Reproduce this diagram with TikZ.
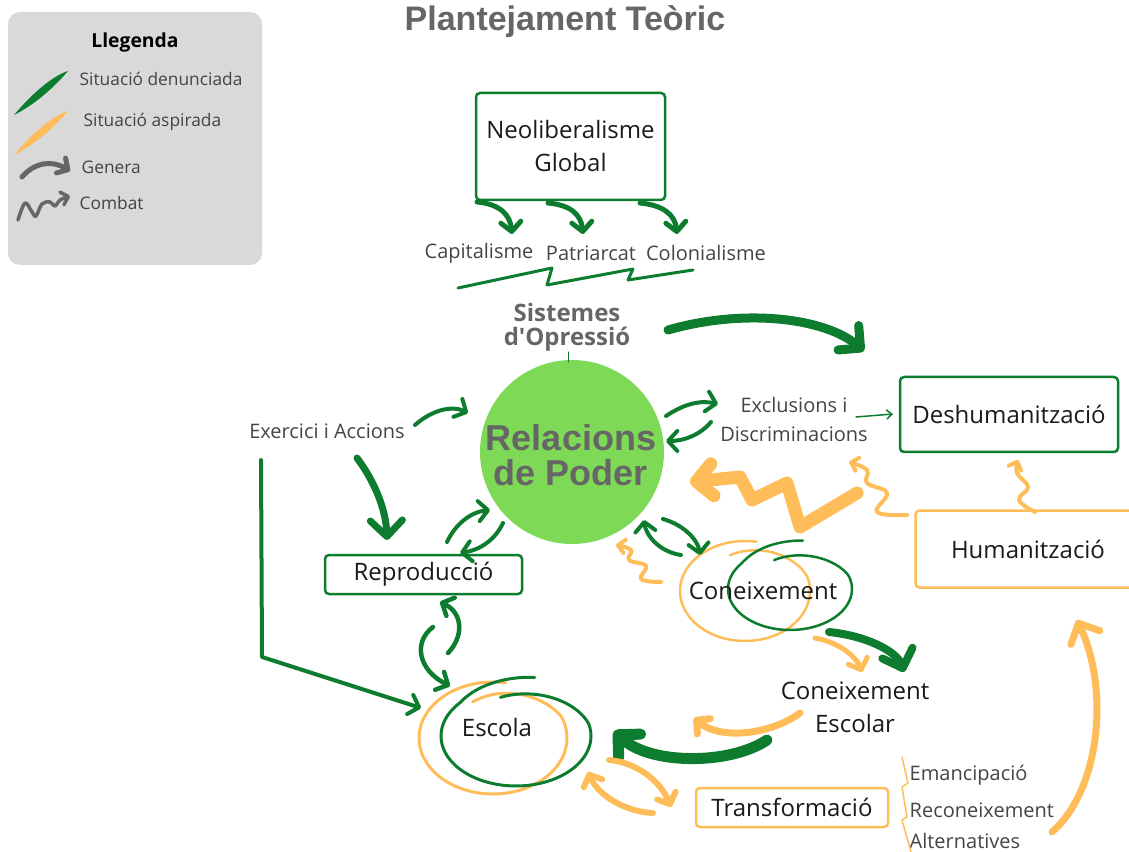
\documentclass[tikz,border=0pt]{standalone}
\usepackage{fontspec}
\setmainfont{Open Sans}
\newfontfamily\heavyfont{Liberation Sans}
\usetikzlibrary{arrows.meta}
\definecolor{dg}{HTML}{0E7C2F}
\definecolor{lg}{HTML}{7ED957}
\definecolor{og}{HTML}{FFBD59}
\definecolor{tg}{HTML}{666666}
\definecolor{lgray}{HTML}{D9D9D9}
\definecolor{txt}{HTML}{1A1A1A}
\definecolor{lab}{HTML}{444444}
\newdimen\PX \PX=0.75pt
\begin{document}
\begin{tikzpicture}[x=0.75pt,y=-0.75pt,
  gbox/.style={draw=dg, line width=2.5\PX, rounded corners=4\PX, align=center, text=txt, font=\fontsize{18}{24.75}\selectfont},
  obox/.style={gbox, draw=og},
  plain/.style={text=txt, align=center, font=\fontsize{18}{24.75}\selectfont},
  labl/.style={text=lab, align=center, font=\fontsize{15}{21.75}\selectfont},
  leglab/.style={text=lab, anchor=west, font=\fontsize{13}{15}\selectfont},
  gl/.style={draw=dg, line cap=round, line join=round},
  ol/.style={draw=og, line cap=round, line join=round},
  bigtip/.style={-{Straight Barb[length=12pt,width=24pt,round]}},
  midtip/.style={-{Straight Barb[length=7pt,width=15pt,round]}},
  smtip/.style={-{Straight Barb[length=5pt,width=10pt,round]}},
  thintip/.style={-{Straight Barb[length=4pt,width=7pt]}}
]
\useasboundingbox (0,0) rectangle (1129,852);
\clip (0,0) rectangle (1129,852);

% ---------- legend ----------
\fill[lgray, rounded corners=9pt] (8,12) rectangle (262,265);
\node[font=\bfseries\fontsize{14.5}{16}\selectfont, text=black] (legt) at (135,42) {Llegenda};
\fill[dg] (14,115) .. controls (35,90) and (55,75) .. (68,71) .. controls (58,83) and (38,103) .. (14,115) -- cycle;
\fill[og] (14,155) .. controls (35,130) and (55,115) .. (68,111) .. controls (58,123) and (38,143) .. (14,155) -- cycle;
\draw[draw=tg, line width=5\PX, line cap=round, -{Straight Barb[length=6pt,width=13pt,round]}] (22,177) .. controls (35,162) and (52,160) .. (70,171);
\draw[draw=tg, line width=3.5\PX, line cap=round, line join=round, -{Straight Barb[length=5pt,width=10pt,round]}] plot[smooth, tension=0.6] coordinates {(18,220) (25,203) (32,212) (36,216) (42,204) (50,202) (55,206) (60,200) (70,196)};
\node[leglab] (l1) at (75,79) {Situació denunciada};
\node[leglab] (l2) at (79,122) {Situació aspirada};
\node[leglab] (l3) at (77,167) {Genera};
\node[leglab] (l4) at (75,203) {Combat};

% ---------- title ----------
\node[font=\heavyfont\bfseries\fontsize{25.5}{30}\selectfont, text=tg] (title) at (565,22) {Plantejament Teòric};

% ---------- hand-drawn loops ----------
\draw[ol, line width=3\PX] plot[smooth, domain=0:393, samples=90, variable=\u]
  ({493 + 74*(1-0.3*max(0,\u-303)/90)*cos(280-\u)}, {738 + 56*(1-0.3*max(0,\u-303)/90)*sin(280-\u)});
\draw[gl, line width=3\PX] plot[smooth, domain=0:387, samples=90, variable=\u]
  ({516 + 75*(1+0.2*max(0,60-\u)/60-0.2*max(0,\u-297)/90)*cos(282-\u)}, {736 + 50*(1+0.2*max(0,60-\u)/60-0.2*max(0,\u-297)/90)*sin(282-\u)});
\draw[ol, line width=2.5\PX] plot[smooth, domain=0:388, samples=90, variable=\u]
  ({745 + 65*(1-0.25*max(0,\u-298)/90)*cos(280-\u)}, {591 + 50*(1-0.25*max(0,\u-298)/90)*sin(280-\u)});
\draw[gl, line width=2.5\PX] plot[smooth, domain=0:390, samples=90, variable=\u]
  ({790 + 62*(1+0.2*max(0,60-\u)/60-0.25*max(0,\u-300)/90)*cos(280-\u)}, {589 + 41*(1+0.2*max(0,60-\u)/60-0.25*max(0,\u-300)/90)*sin(280-\u)});

% ---------- nodes ----------
\node[gbox, minimum width=141.75pt, minimum height=80.25pt] (neo) at (570.5,146.5) {Neoliberalisme\\Global};
\node[labl] (cap) at (479,253) {Capitalisme};
\node[labl] (pat) at (591,253) {Patriarcat};
\node[labl] (col) at (706,253) {Colonialisme};
\node[text=tg, align=center, font=\bfseries\fontsize{18}{18}\selectfont] (sis) at (567,327) {Sistemes\\d\XeTeXglyph\XeTeXcharglyph"0027 Opressió};
\node[circle, fill=lg, minimum size=138pt, inner sep=0pt] (rel) at (572,452) {};
\node[text=tg, align=center, font=\heavyfont\bfseries\fontsize{27}{26.25}\selectfont] (reltxt) at (571,455) {Relacions\\de Poder};
\node[labl] (exc) at (794,419) {Exclusions i\\Discriminacions};
\node[gbox, minimum width=163.5pt, minimum height=56.25pt] (desh) at (1009,414.5) {Deshumanització};
\node[obox, minimum width=168.75pt, minimum height=57.75pt] (hum) at (1028,549) {Humanització};
\node[labl] (exer) at (327,431) {Exercici i Accions};
\node[gbox, minimum width=147.75pt, minimum height=29.25pt] (repro) at (423.5,574.5) {Reproducció};
\node[plain] (conei) at (763,591) {Coneixement};
\node[plain] (cesc) at (855,707) {Coneixement\\Escolar};
\node[plain] (escola) at (497,727) {Escola};
\node[obox, minimum width=144pt, minimum height=29.25pt] (transf) at (792,807.5) {Transformació};
\node[labl, anchor=west] (ema) at (905,775) {Emancipació};
\node[labl, anchor=west] (rec) at (905,810) {Reconeixement};
\node[labl, anchor=west] (alt) at (905,841) {Alternatives};

% ---------- coordinates ----------
\coordinate (n1s) at (477,202); \coordinate (n1e) at (512,234);
\coordinate (n2s) at (548,203); \coordinate (n2e) at (583,234);
\coordinate (n3s) at (640,203); \coordinate (n3e) at (677,234);
\coordinate (sisE) at (668,330); \coordinate (deshN) at (864,351);
\coordinate (relE1) at (666,416); \coordinate (excW1) at (718,404);
\coordinate (excW2) at (711,422); \coordinate (relE2) at (666,441);
\coordinate (excE) at (856,417); \coordinate (deshW) at (893,414);
\coordinate (exerE) at (415,425); \coordinate (relW) at (468,413);
\coordinate (exerS) at (357,458); \coordinate (reproN) at (387,540);
\coordinate (reproA) at (447,542); \coordinate (relSW1) at (490,510);
\coordinate (relSW2) at (503,523); \coordinate (reproB) at (460,553);
\coordinate (escA) at (448,653); \coordinate (reproS1) at (440,602);
\coordinate (reproS2) at (433,627); \coordinate (escN) at (450,686);
\coordinate (exerV) at (261,460); \coordinate (corner) at (262,657); \coordinate (escW) at (421,708);
\coordinate (relSE1) at (663,519); \coordinate (coneiN1) at (700,555);
\coordinate (coneiN2) at (681,555); \coordinate (relSE2) at (644,520);
\coordinate (coneiSE1) at (829,632); \coordinate (cescN1) at (904,672);
\coordinate (coneiSE2) at (815,638); \coordinate (cescN2) at (862,672);
\coordinate (cescW1) at (767,740); \coordinate (escE1) at (614,731);
\coordinate (cescW2) at (800,713); \coordinate (escE2) at (694,718);
\coordinate (escSE1) at (609,760); \coordinate (transfW1) at (671,807);
\coordinate (transfW2) at (653,813); \coordinate (escSE2) at (588,772);
\coordinate (altE) at (1052,832); \coordinate (humS) at (1077,620);

% ---------- connectors ----------
\draw[gl, line width=5\PX, midtip] (n1s) .. controls +(22,2) and +(-2,-20) .. (n1e);
\draw[gl, line width=5\PX, midtip] (n2s) .. controls +(22,2) and +(-2,-20) .. (n2e);
\draw[gl, line width=5\PX, midtip] (n3s) .. controls +(22,2) and +(-2,-20) .. (n3e);
\draw[gl, line width=3\PX] (458,288) -- (552,268) -- (547,285) -- (633,269) -- (628,280) -- (693,270);
\draw[gl, line width=1\PX] (568,352) -- (568,362);

\draw[gl, line width=9\PX, bigtip] (sisE) .. controls (745,308) and (825,318) .. (deshN);
\draw[gl, line width=4\PX, midtip] (relE1) .. controls (684,404) and (700,400) .. (excW1);
\draw[gl, line width=4\PX, midtip] (excW2) .. controls (700,435) and (684,441) .. (relE2);
\draw[gl, line width=1.5\PX, thintip] (excE) -- (deshW);
\draw[gl, line width=4\PX, midtip] (exerE) .. controls (432,410) and (452,405) .. (relW);
\draw[gl, line width=7\PX, bigtip] (exerS) .. controls (375,482) and (386,510) .. (reproN);
\draw[gl, line width=4\PX, midtip] (reproA) .. controls (455,525) and (470,512) .. (relSW1);
\draw[gl, line width=4\PX, midtip] (relSW2) .. controls (495,540) and (480,550) .. (reproB);
\draw[gl, line width=4.5\PX, midtip] (escA) .. controls (465,635) and (462,612) .. (reproS1);
\draw[gl, line width=4.5\PX, midtip] (reproS2) .. controls (413,642) and (418,670) .. (escN);
\draw[gl, line width=4\PX, midtip] (exerV) -- (corner) -- (escW);
\draw[gl, line width=4\PX, midtip] (relSE1) .. controls (684,525) and (698,540) .. (coneiN1);
\draw[gl, line width=4\PX, midtip] (coneiN2) .. controls (660,552) and (646,536) .. (relSE2);
\draw[gl, line width=8\PX, bigtip] (coneiSE1) .. controls (868,636) and (897,652) .. (cescN1);
\draw[ol, line width=5\PX, midtip] (coneiSE2) .. controls (838,642) and (856,656) .. (cescN2);
\draw[gl, line width=11\PX, bigtip] (cescW1) .. controls (730,765) and (650,765) .. (escE1);
\draw[ol, line width=7\PX, midtip] (cescW2) .. controls (770,735) and (720,740) .. (escE2);
\draw[ol, line width=6\PX, midtip] (escSE1) .. controls (635,762) and (660,780) .. (transfW1);
\draw[ol, line width=6\PX, midtip] (transfW2) .. controls (625,812) and (598,795) .. (escSE2);
\draw[ol, line width=1.5\PX] (902,757) -- (908,783) -- (902,787) -- (907,817) -- (902,820) -- (911,852);
\draw[ol, line width=7\PX, bigtip] (altE) .. controls (1100,790) and (1110,690) .. (humS);

% orange "combat" arrows
\draw[ol, line width=13\PX, bigtip] (857,493) -- (800,527) -- (787,483) -- (752,500) -- (740,477) -- (690,482);
\draw[ol, line width=4\PX, smtip] plot[smooth, tension=0.7] coordinates {(907,515) (877,512) (887,493) (867,483) (867,470) (849,462)};
\draw[ol, line width=4\PX, smtip] plot[smooth, tension=0.7] coordinates {(1035,512) (1019,500) (1028,487) (1017,473) (1018,460)};
\draw[ol, line width=4\PX, smtip] plot[smooth, tension=0.7] coordinates {(661,582) (641,579) (646,566) (629,560) (631,550) (616,545)};
\end{tikzpicture}
\end{document}
